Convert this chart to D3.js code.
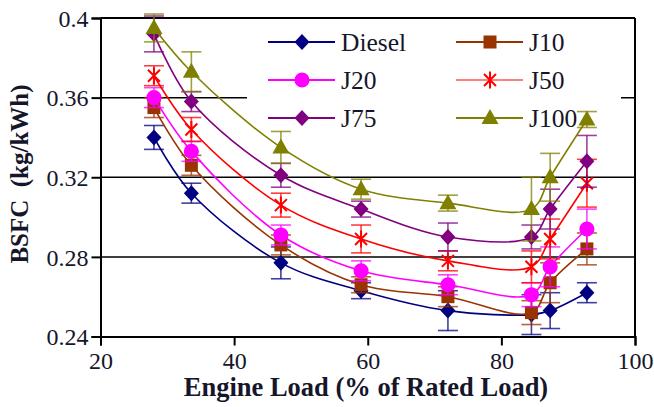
<!DOCTYPE html>
<html>
<head>
<meta charset="utf-8">
<script src="https://cdn.jsdelivr.net/npm/d3@7"></script>
<style>
  html, body { margin: 0; padding: 0; background: #fff; }
  svg { display: block; }
  svg text { font-family: "Liberation Serif", "Times New Roman", "DejaVu Serif", serif; }
</style>
</head>
<body>
<svg id="chart" width="654" height="407"></svg>
<script>
// Engine load (% of rated load) at each test point
const loads = [28, 33.6, 47, 59, 72, 84.5, 87.3, 92.8];

// BSFC (kg/kWh) per fuel blend
const diesel = [0.340, 0.312, 0.277, 0.263, 0.253, 0.251, 0.253, 0.262];
const j10    = [0.355, 0.326, 0.286, 0.266, 0.260, 0.252, 0.267, 0.284];
const j20    = [0.360, 0.333, 0.291, 0.273, 0.266, 0.261, 0.275, 0.294];
const j50    = [0.371, 0.344, 0.306, 0.289, 0.278, 0.275, 0.289, 0.317];
const j75    = [0.392, 0.358, 0.321, 0.304, 0.290, 0.290, 0.304, 0.328];
const j100   = [0.395, 0.373, 0.335, 0.314, 0.307, 0.304, 0.320, 0.349];

// Error bar half-widths (kg/kWh)
const dieselErr = [0.006, 0.005, 0.008, 0.004, 0.010, 0.010, 0.009, 0.005];
const j10Err    = [0.005, 0.005, 0.005, 0.004, 0.005, 0.006, 0.010, 0.008];
const j20Err    = [0.005, 0.005, 0.005, 0.005, 0.005, 0.006, 0.010, 0.010];
const j50Err    = [0.005, 0.006, 0.006, 0.007, 0.005, 0.008, 0.010, 0.012];
const j75Err    = [0.009, 0.005, 0.006, 0.004, 0.007, 0.006, 0.010, 0.013];
const j100Err   = [0.007, 0.010, 0.008, 0.005, 0.004, 0.016, 0.012, 0.004];

const seriesNames = ["Diesel", "J10", "J20", "J50", "J75", "J100"];
const xTicks = [20, 40, 60, 80, 100];
const yTicks = [0.24, 0.28, 0.32, 0.36, 0.4];
const yTickLabels = ["0.24", "0.28", "0.32", "0.36", "0.4"];

const series = [
  { name: seriesNames[0], values: diesel, err: dieselErr, color: "#000080", shape: "diamond" },
  { name: seriesNames[1], values: j10,    err: j10Err,    color: "#993300", shape: "square" },
  { name: seriesNames[2], values: j20,    err: j20Err,    color: "#ff00ff", shape: "circle" },
  { name: seriesNames[3], values: j50,    err: j50Err,    color: "#ff0000", shape: "star" },
  { name: seriesNames[4], values: j75,    err: j75Err,    color: "#800080", shape: "diamond" },
  { name: seriesNames[5], values: j100,   err: j100Err,   color: "#808000", shape: "triangle" }
];

const FONT = '"Liberation Serif", "Times New Roman", "DejaVu Serif", serif';
const TEXT_COLOR = "#16162a";

const svg = d3.select("#chart");
const x = d3.scaleLinear().domain([20, 100]).range([100.5, 635]);
const y = d3.scaleLinear().domain([0.24, 0.4]).range([336.5, 18]);

// Marker path generator
function markerPath(shape) {
  switch (shape) {
    case "diamond":  return "M0,-8L7.5,0L0,8L-7.5,0Z";
    case "square":   return "M-6.5,-6.5H6.5V6.5H-6.5Z";
    case "circle":   return d3.symbol(d3.symbolCircle, 180)();
    case "triangle": return "M0,-9L8.5,6L-8.5,6Z";
    case "star":     return "M-6,-6L6,6M-6,6L6,-6M0,-8.5V8.5";
  }
}

// Gridlines
svg.append("g")
  .selectAll("line")
  .data(yTicks.slice(1, -1))
  .join("line")
  .attr("x1", x(20)).attr("x2", x(100))
  .attr("y1", d => y(d)).attr("y2", d => y(d))
  .attr("stroke", "#000").attr("stroke-width", 1.5);

// Legend background (hides gridlines behind it)
const legend = svg.append("g");
legend.append("rect")
  .attr("x", 247).attr("y", 21).attr("width", 374).attr("height", 116)
  .attr("fill", "#fff");

const legendCols = [268, 456];
const legendRows = [42, 80, 118];
series.forEach((s, i) => {
  const cx = legendCols[i % 2];
  const cy = legendRows[Math.floor(i / 2)];
  const g = legend.append("g");
  g.append("line")
    .attr("x1", cx).attr("x2", cx + 67)
    .attr("y1", cy).attr("y2", cy)
    .attr("stroke", s.shape === "star" ? "#ff8080" : s.color)
    .attr("stroke-width", 2);
  const m = g.append("path")
    .attr("d", markerPath(s.shape))
    .attr("transform", `translate(${cx + 34},${cy})`);
  if (s.shape === "star") m.attr("fill", "none").attr("stroke", s.color).attr("stroke-width", 2);
  else m.attr("fill", s.color);
  g.append("text")
    .attr("x", cx + 73).attr("y", cy + 8.5)
    .attr("font-size", 25.5)
    .attr("font-family", FONT)
    .attr("fill", TEXT_COLOR)
    .text(s.name);
});

// Axes frame
const axisG = svg.append("g").attr("stroke", "#000").attr("stroke-width", 2);
axisG.append("line").attr("x1", x(20)).attr("x2", x(100)).attr("y1", y(0.4)).attr("y2", y(0.4));
axisG.append("line").attr("x1", x(100)).attr("x2", x(100)).attr("y1", y(0.4)).attr("y2", y(0.24));

const yAxis = d3.axisLeft(y).tickValues(yTicks).tickSize(9).tickPadding(3)
  .tickFormat((d, i) => yTickLabels[i]);
const yg = svg.append("g").attr("transform", `translate(${x(20)},0)`).call(yAxis);
yg.attr("font-family", FONT);
yg.select(".domain").attr("stroke-width", 2);
yg.selectAll(".tick line").attr("stroke-width", 2);
yg.selectAll(".tick text").attr("font-size", 24).attr("fill", TEXT_COLOR).attr("dy", "0.34em");

const xAxis = d3.axisBottom(x).tickValues(xTicks).tickSize(9).tickPadding(6);
const xg = svg.append("g").attr("transform", `translate(0,${y(0.24)})`).call(xAxis);
xg.attr("font-family", FONT);
xg.select(".domain").attr("stroke-width", 2);
xg.selectAll(".tick line").attr("stroke-width", 2);
xg.selectAll(".tick text").attr("font-size", 24).attr("fill", TEXT_COLOR);

// Axis titles
svg.append("text")
  .attr("x", 366).attr("y", 396)
  .attr("text-anchor", "middle")
  .attr("font-family", FONT)
  .attr("font-size", 26.5).attr("font-weight", "bold").attr("fill", TEXT_COLOR)
  .text("Engine Load (% of Rated Load)");

svg.append("text")
  .attr("transform", "translate(28,174) rotate(-90)")
  .attr("text-anchor", "middle")
  .attr("font-family", FONT)
  .attr("font-size", 25).attr("font-weight", "bold").attr("fill", TEXT_COLOR)
  .attr("xml:space", "preserve")
  .text("BSFC  (kg/kWh)");

// Data series
const line = d3.line()
  .x((d, i) => x(loads[i]))
  .y(d => y(d))
  .curve(d3.curveCatmullRom.alpha(0.5));

series.forEach(s => {
  const g = svg.append("g");
  // error bars
  const eb = g.append("g")
    .attr("stroke", s.color).attr("stroke-width", 1.6).attr("stroke-opacity", 0.75);
  s.values.forEach((v, i) => {
    const xi = x(loads[i]);
    const lo = y(v - s.err[i]), hi = y(v + s.err[i]);
    eb.append("line").attr("x1", xi).attr("x2", xi).attr("y1", lo).attr("y2", hi);
    eb.append("line").attr("x1", xi - 10).attr("x2", xi + 10).attr("y1", lo).attr("y2", lo);
    eb.append("line").attr("x1", xi - 10).attr("x2", xi + 10).attr("y1", hi).attr("y2", hi);
  });
  g.append("path")
    .datum(s.values)
    .attr("d", line)
    .attr("fill", "none")
    .attr("stroke", s.color)
    .attr("stroke-width", 1.6);
  g.selectAll(".pt")
    .data(s.values)
    .join("path")
    .attr("d", markerPath(s.shape))
    .attr("transform", (d, i) => `translate(${x(loads[i])},${y(d)})`)
    .attr("fill", s.shape === "star" ? "none" : s.color)
    .attr("stroke", s.shape === "star" ? s.color : "none")
    .attr("stroke-width", 2);
});
</script>
</body>
</html>
